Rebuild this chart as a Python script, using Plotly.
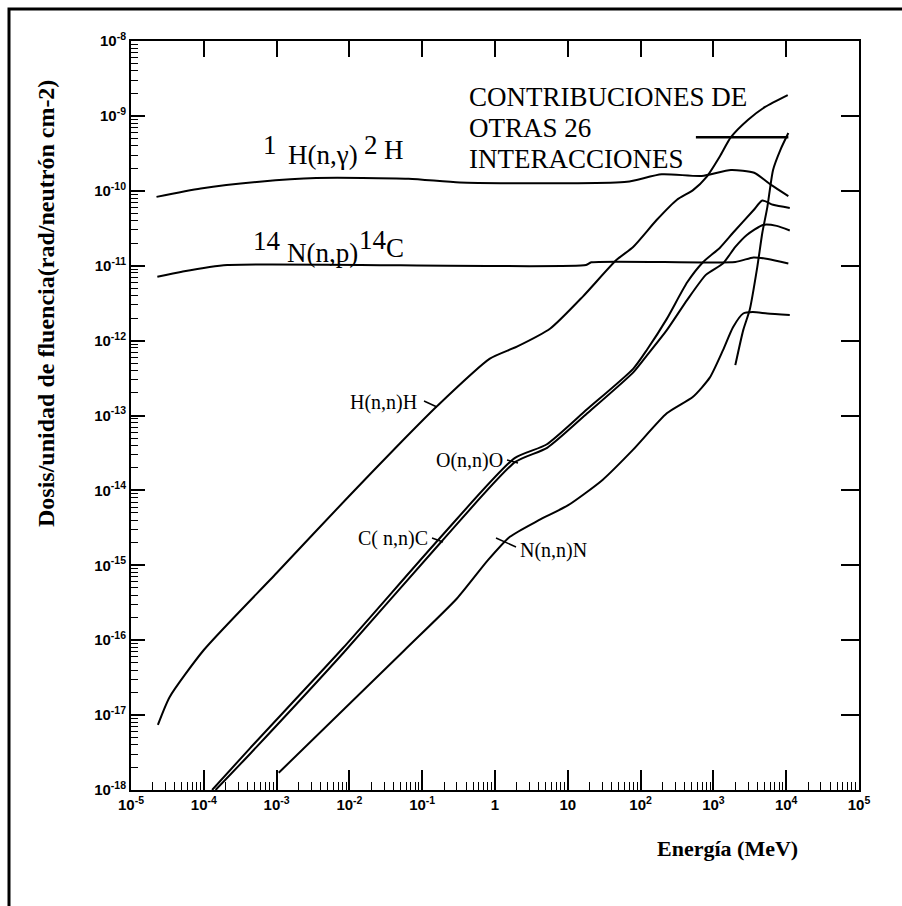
import plotly.graph_objects as go

# ---------------- data (energy in MeV, dose per fluence in rad cm^2) ----------------
E_Hng = [2.24e-5, 9.1e-5, 5.8e-4, 3.5e-3, 0.065, 0.33, 12.6, 65, 195, 690, 1740, 3630, 6200, 10700]
D_Hng = [8.3e-11, 1.07e-10, 1.32e-10, 1.48e-10, 1.45e-10, 1.29e-10, 1.26e-10, 1.32e-10, 1.66e-10, 1.58e-10, 1.9e-10, 1.74e-10, 1.2e-10, 8.5e-11]

E_Nnp = [2.3e-5, 5e-5, 2.1e-4, 17.8, 21, 2000, 3550, 5600, 10700]
D_Nnp = [7.1e-12, 8.3e-12, 1.02e-11, 1.02e-11, 1.11e-11, 1.12e-11, 1.29e-11, 1.23e-11, 1.07e-11]

E_Hnn = [2.34e-5, 3.4e-5, 1e-4, 1e-3, 1e-2, 0.05, 0.158, 0.85, 2.0, 5.75, 16.2, 46.8, 79, 166, 316, 525, 813, 1230, 1740, 3000, 5130, 10500]
D_Hnn = [7.4e-18, 1.75e-17, 7.4e-17, 7.9e-16, 8.5e-15, 4.3e-14, 1.32e-13, 5.75e-13, 8.3e-13, 1.45e-12, 3.9e-12, 1.2e-11, 1.78e-11, 4.07e-11, 7.6e-11, 1.02e-10, 1.55e-10, 2.9e-10, 5.2e-10, 8.9e-10, 1.32e-9, 1.9e-9]

E_Onn = [1.3e-4, 4.3e-4, 8.1e-3, 0.174, 1.86, 5.1, 18.2, 79, 123, 229, 437, 724, 1230, 1860, 3550, 4700, 6600, 11200]
D_Onn = [1e-18, 3.6e-18, 7.8e-17, 2.3e-15, 2.7e-14, 4.1e-14, 1.2e-13, 4.2e-13, 7.6e-13, 1.95e-12, 6e-12, 1.12e-11, 1.74e-11, 2.75e-11, 5.5e-11, 7.4e-11, 6.5e-11, 5.9e-11]

E_Cnn = [1.45e-4, 4.4e-4, 8.3e-3, 0.178, 1.9, 5.2, 18.5, 80, 123, 229, 437, 794, 1350, 2000, 2880, 4800, 7400, 11200]
D_Cnn = [1e-18, 3.1e-18, 6.8e-17, 2.0e-15, 2.4e-14, 3.7e-14, 1.07e-13, 3.8e-13, 6.4e-13, 1.38e-12, 3.5e-12, 7.6e-12, 1.07e-11, 1.78e-11, 2.57e-11, 3.5e-11, 3.4e-11, 2.95e-11]

E_Nnn = [1.07e-3, 0.0575, 0.3, 0.8, 1.6, 4.0, 10, 30, 79, 229, 525, 891, 1350, 1860, 2570, 3470, 5500, 11200]
D_Nnn = [1.7e-18, 7.4e-17, 3.6e-16, 1.17e-15, 2.4e-15, 4e-15, 6.3e-15, 1.38e-14, 3.5e-14, 1.07e-13, 1.78e-13, 3.2e-13, 7.4e-13, 1.51e-12, 2.3e-12, 2.4e-12, 2.3e-12, 2.2e-12]

E_other = [2000, 2570, 3160, 4000, 4700, 5500, 6600, 8300, 10700]
D_other = [4.7e-13, 1.38e-12, 2.6e-12, 9.5e-12, 2.75e-11, 6e-11, 1.9e-10, 3.5e-10, 5.9e-10]

E_bracket = [575, 10700]
D_bracket = [5.2e-10, 5.2e-10]

x_tick_vals = [1e-5, 1e-4, 1e-3, 1e-2, 1e-1, 1, 10, 1e2, 1e3, 1e4, 1e5]
x_tick_text = ["10<sup>-5</sup>", "10<sup>-4</sup>", "10<sup>-3</sup>", "10<sup>-2</sup>", "10<sup>-1</sup>",
               "1", "10", "10<sup>2</sup>", "10<sup>3</sup>", "10<sup>4</sup>", "10<sup>5</sup>"]
y_tick_vals = [1e-18, 1e-17, 1e-16, 1e-15, 1e-14, 1e-13, 1e-12, 1e-11, 1e-10, 1e-9, 1e-8]
y_tick_text = ["10<sup>-18</sup>", "10<sup>-17</sup>", "10<sup>-16</sup>", "10<sup>-15</sup>", "10<sup>-14</sup>",
               "10<sup>-13</sup>", "10<sup>-12</sup>", "10<sup>-11</sup>", "10<sup>-10</sup>", "10<sup>-9</sup>",
               "10<sup>-8</sup>"]

# ---------------- layout helpers ----------------
W, H = 902, 906
L, R, T, B = 131, 859, 41, 790


def px(x):
    return (x - L) / (R - L)


def py(y):
    return (B - y) / (B - T)


fig = go.Figure()
line = dict(color="black", width=2, shape="spline", smoothing=0.6)
for E, D in [(E_Hng, D_Hng), (E_Nnp, D_Nnp), (E_Hnn, D_Hnn), (E_Onn, D_Onn),
             (E_Cnn, D_Cnn), (E_Nnn, D_Nnn), (E_other, D_other)]:
    fig.add_trace(go.Scatter(x=E, y=D, mode="lines", line=line, hoverinfo="skip", showlegend=False))
fig.add_trace(go.Scatter(x=E_bracket, y=D_bracket, mode="lines", line=dict(color="black", width=2.5),
                         hoverinfo="skip", showlegend=False, xaxis="x2", yaxis="y2"))

minor_x = [k * 10 ** n for n in range(-5, 5) for k in range(2, 10)]
minor_y = [k * 10 ** n for n in range(-18, -8) for k in range(2, 10)]

tickfont = dict(family="Liberation Sans", size=15, color="black", weight="bold")
fig.update_layout(
    width=W, height=H, paper_bgcolor="white", plot_bgcolor="white",
    margin=dict(l=L, r=W - R, t=T, b=H - B, pad=0),
    showlegend=False,
    xaxis=dict(type="log", range=[-5, 5], showgrid=False, zeroline=False, showline=True,
               linecolor="black", linewidth=2, mirror=True, ticks="inside", ticklen=20, tickwidth=1.5,
               tickcolor="black", tickmode="array", tickvals=x_tick_vals, ticktext=x_tick_text,
               tickfont=tickfont,
               minor=dict(ticks="inside", ticklen=8, tickwidth=1, tickcolor="black",
                          tickmode="array", tickvals=minor_x, showgrid=False)),
    yaxis=dict(type="log", range=[-18, -8], showgrid=False, zeroline=False, showline=True,
               linecolor="black", linewidth=2, mirror=True, ticks="inside", ticklen=14, tickwidth=1.5,
               tickcolor="black", tickmode="array", tickvals=y_tick_vals, ticktext=y_tick_text,
               tickfont=tickfont,
               minor=dict(ticks="inside", ticklen=7, tickwidth=1, tickcolor="black",
                          tickmode="array", tickvals=minor_y, showgrid=False)),
    xaxis2=dict(type="log", range=[-5, 5], overlaying="x", side="top", anchor="y2", showgrid=False,
                zeroline=False, showline=False, ticks="inside", ticklen=16, tickwidth=1.5, tickcolor="black",
                tickmode="array", tickvals=x_tick_vals, showticklabels=False),
    yaxis2=dict(type="log", range=[-18, -8], overlaying="y", side="right", anchor="x2", showgrid=False,
                zeroline=False, showline=False, ticks="inside", ticklen=18, tickwidth=1.5, tickcolor="black",
                tickmode="array", tickvals=y_tick_vals, showticklabels=False),
)

serif = "Liberation Serif, Times New Roman, serif"
ann = []


def text(x, y, s, size, xanchor="center", bold=False, angle=0):
    ann.append(dict(xref="paper", yref="paper", x=px(x), y=py(y), text=s, showarrow=False,
                    xanchor=xanchor, yanchor="middle", textangle=angle,
                    font=dict(family=serif, size=size, color="black", weight="bold" if bold else "normal")))


# reaction labels
text(270, 145, "1", 27)
text(323, 155, "H(n,γ)", 27)
text(371, 145, "2", 27)
text(394, 150, "H", 27)

text(267, 241, "14", 27)
text(322, 253, "N(n,p)", 27)
text(373, 240, "14", 27)
text(395, 248, "C", 27)

text(467, 97, "CONTRIBUCIONES DE", 27, xanchor="left")
text(467, 128, "OTRAS 26", 27, xanchor="left")
text(467, 159, "INTERACCIONES", 27, xanchor="left")

text(419, 402, "H(n,n)H", 20, xanchor="right")
text(505, 460, "O(n,n)O", 20, xanchor="right")
text(430, 538, "C( n,n)C", 20, xanchor="right")
text(518, 550, "N(n,n)N", 20, xanchor="left")

# axis titles
text(800, 848, "Energía (MeV)", 22, xanchor="right", bold=True)
ann.append(dict(xref="paper", yref="paper", x=px(46), y=py(304), text="Dosis/unidad de fluencia(rad/neutrón cm-2)",
                showarrow=False, textangle=-90, xanchor="center", yanchor="middle",
                font=dict(family=serif, size=24, color="black", weight="bold")))
fig.update_layout(annotations=ann)

# leaders and outer frame
shapes = []


def seg(x0, y0, x1, y1, w=1.5):
    shapes.append(dict(type="line", xref="paper", yref="paper", x0=px(x0), y0=py(y0), x1=px(x1), y1=py(y1),
                       line=dict(color="black", width=w)))


seg(424, 401, 437, 407)
seg(507, 460, 518, 463)
seg(432, 538, 443, 542)
seg(496, 538, 516, 547)
shapes.append(dict(type="path", xref="paper", yref="paper",
                   path=f"M {px(9)},{py(920)} L {px(9)},{py(9)} L {px(920)},{py(9)}",
                   line=dict(color="black", width=3)))
fig.update_layout(shapes=shapes)

fig.write_html("out.html")
